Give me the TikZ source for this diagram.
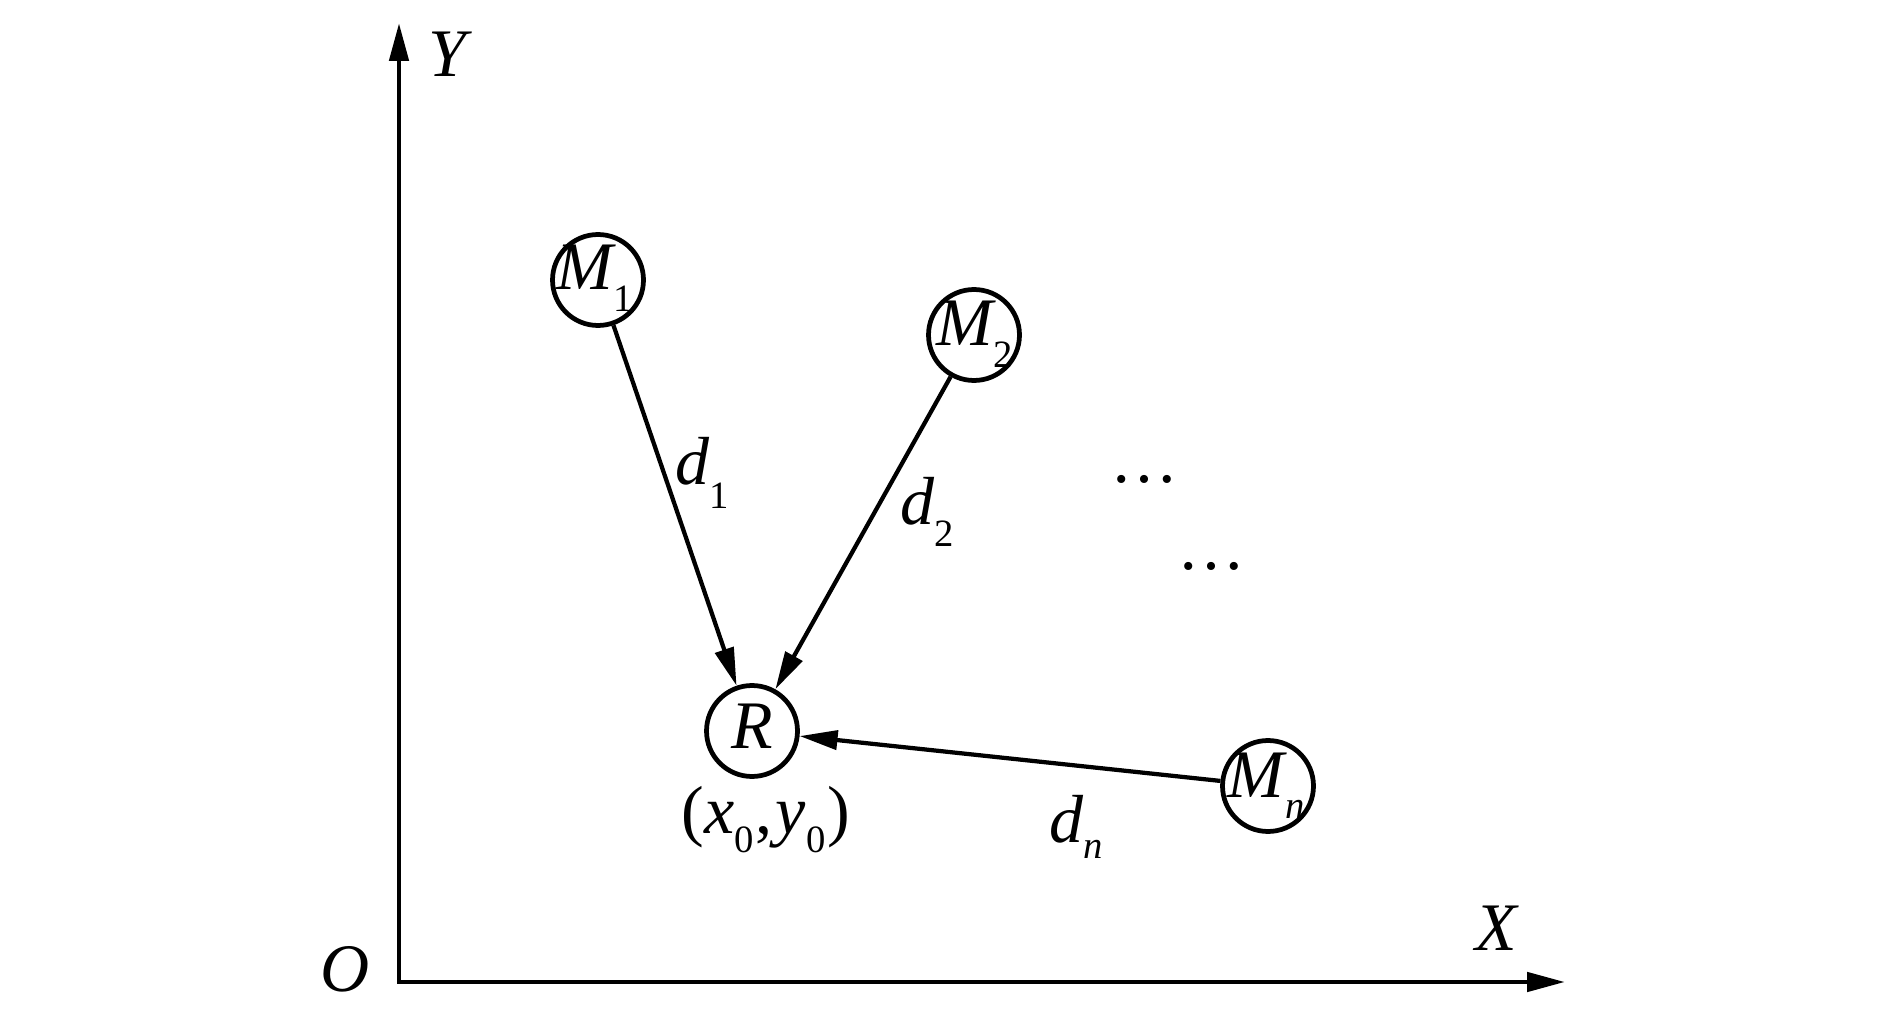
\documentclass[tikz,border=0pt]{standalone}
\usepackage{fontspec}
\setmainfont{Liberation Serif}
\usetikzlibrary{arrows.meta}
\newcommand\mysub[2][0.32em]{\raisebox{-#1}{\fontsize{22}{22}\selectfont #2}}
\begin{document}
\begin{tikzpicture}[x=0.02cm,y=-0.02cm,
  lbl/.style={inner sep=0pt, font=\fontsize{38.7}{40}\selectfont},
  station/.style={circle, draw, line width=0.095cm, minimum size=1.82cm, inner sep=0pt},
  conn/.style={-{Triangle[length=0.76cm,width=0.38cm]}, line width=0.085cm},
  axisline/.style={line width=0.095cm, line join=miter,
    {Triangle[length=0.76cm,width=0.38cm]}-{Triangle[length=0.76cm,width=0.38cm]}}]
\useasboundingbox (0,0) rectangle (1890,1016);
% axes
\coordinate (O) at (399,982);
\coordinate (ytip) at (399,23);
\coordinate (xtip) at (1565,982);
\draw[axisline] (ytip) -- (O) -- (xtip);
\node[lbl, anchor=base] (ylab) at (450,77) {\textit{Y}};
\node[lbl, anchor=base] (xlab) at (1497,950) {\textit{X}};
\node[lbl, anchor=base] (olab) at (345,991) {\textit{O}};
% stations
\node[station] (m1) at (598,280) {};
\node[station] (m2) at (974,335) {};
\node[station] (r)  at (752,731) {};
\node[station] (mn) at (1268,786) {};
\node[lbl, anchor=base west] (m1lab) at (556,290) {\textit{M}\kern-0.04em\mysub{1}};
\node[lbl, anchor=base west] (m2lab) at (936,346) {\textit{M}\kern-0.04em\mysub{2}};
\node[lbl, anchor=base west] (mnlab) at (1227,797) {\textit{M}\kern-0.03em\mysub{\textit{n}}};
\node[lbl, anchor=base] (rlab) at (752,748) {\textit{R}};
\node[lbl, anchor=base west] (coord) at (681,833) {(\textit{x}\mysub[0.29em]{0}\kern0.03em,\kern0.05em\textit{y}\mysub[0.29em]{0}\kern0.03em)};
% connectors
\draw[conn] (m1) -- (r);
\draw[conn] (m2) -- (r);
\draw[conn] (mn) -- (r);
% distance labels
\node[lbl, anchor=base west] (d1) at (675,485) {\textit{d}\mysub[0.35em]{1}};
\node[lbl, anchor=base west] (d2) at (900,525) {\textit{d}\mysub{2}};
\node[lbl, anchor=base west] (dn) at (1049,842) {\textit{d}\mysub[0.24em]{\textit{n}}};
% ellipses
\node[lbl, anchor=base] (dots1) at (1144,483) {…};
\node[lbl, anchor=base] (dots2) at (1211,570) {…};
\end{tikzpicture}
\end{document}
